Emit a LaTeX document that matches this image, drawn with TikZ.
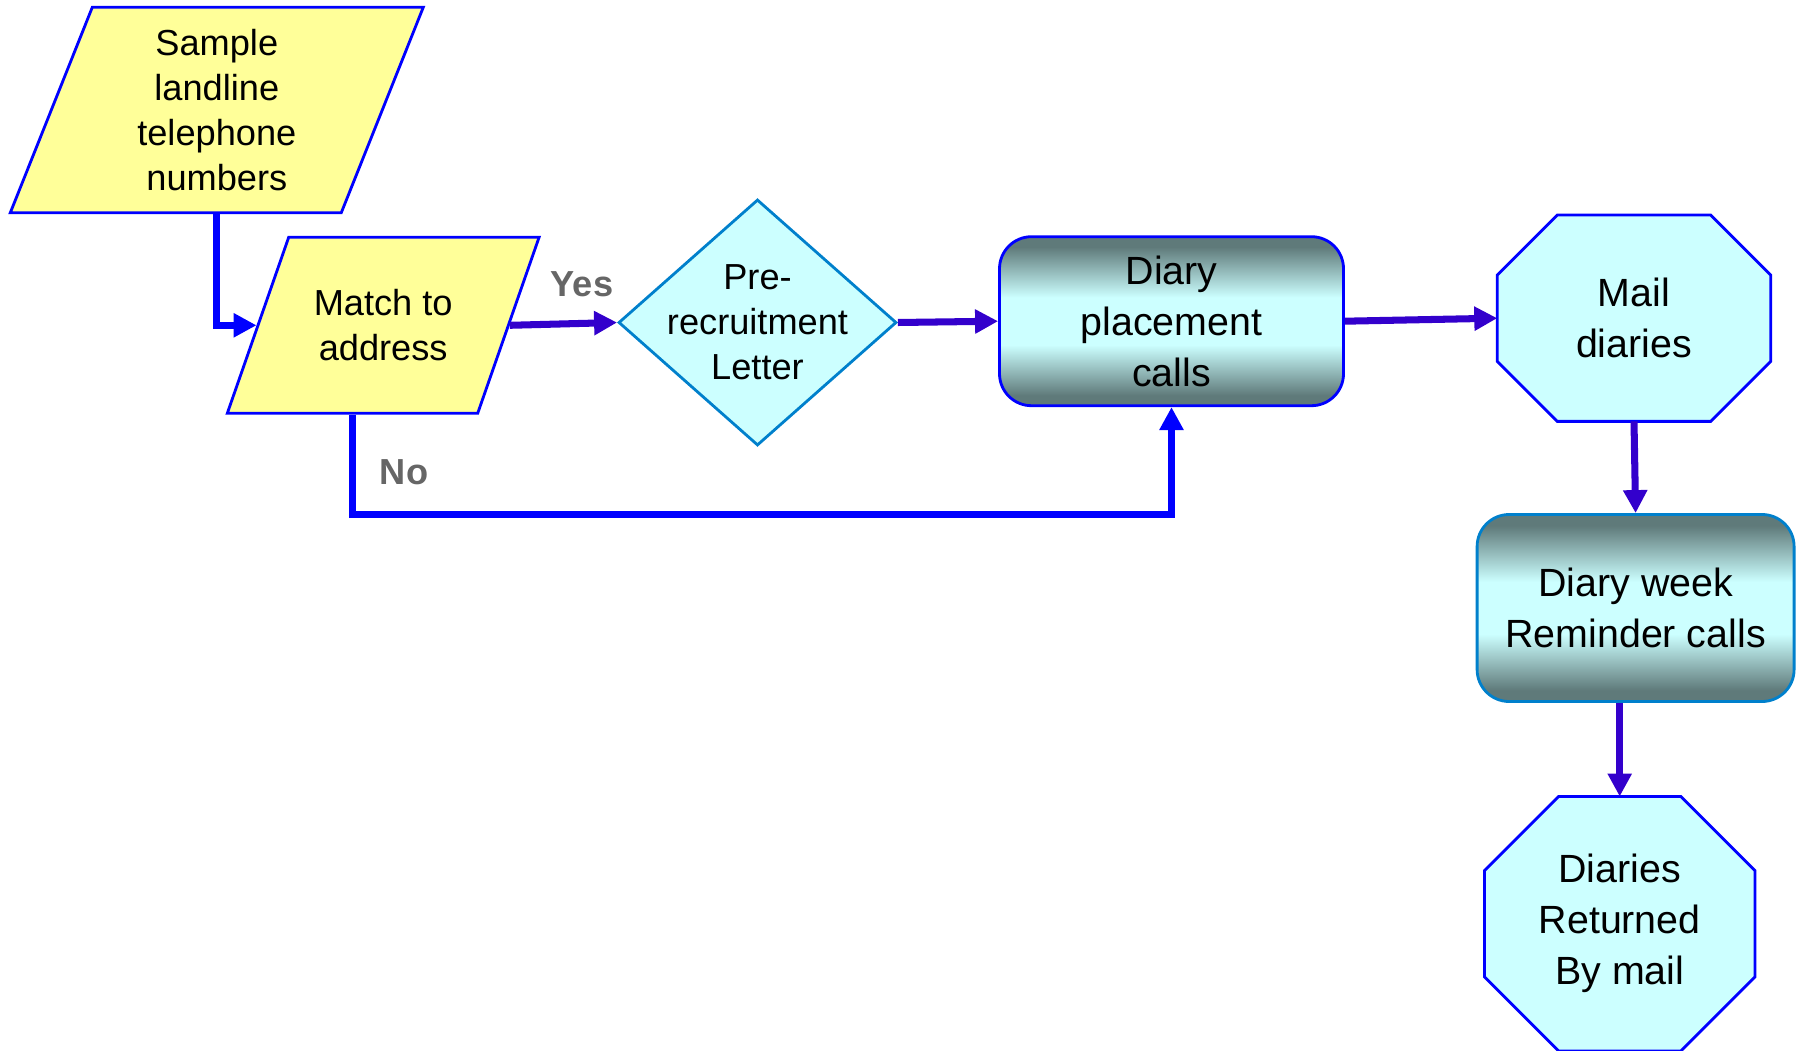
\documentclass[tikz,border=0pt]{standalone}
\usepackage{fontspec}
\setmainfont{Liberation Sans}
\usetikzlibrary{arrows.meta,shapes,positioning,backgrounds}
\definecolor{boxyellow}{RGB}{255,255,153}
\definecolor{boxcyan}{RGB}{204,255,255}
\definecolor{shadegray}{RGB}{95,122,122}
\definecolor{edgeblue}{RGB}{0,0,255}
\definecolor{edgesky}{RGB}{0,128,204}
\definecolor{arrowviolet}{RGB}{51,0,204}
\definecolor{labelgray}{RGB}{102,102,102}
\pgfdeclareverticalshading{callshade}{100bp}{color(0bp)=(shadegray); color(28bp)=(shadegray); color(43bp)=(boxcyan); color(57bp)=(boxcyan); color(72bp)=(shadegray); color(100bp)=(shadegray)}

\tikzset{
  smalltext/.style={align=center,font=\fontsize{10.3}{12.8}\selectfont},
  bigtext/.style={align=center,font=\fontsize{11.2}{14.5}\selectfont},
  inputbox/.style={trapezium,draw=edgeblue,fill=boxyellow,line width=0.8pt,minimum width=0pt,minimum height=0pt},
  letterbox/.style={diamond,draw=edgesky,fill=boxcyan,line width=0.8pt,inner sep=0pt},
  callbox/.style={rectangle,rounded corners=3.2mm,draw=edgeblue,line width=0.8pt,shade,shading=callshade,inner sep=0pt,bigtext},
  mailbox/.style={rectangle,inner sep=0pt,bigtext},
  octline/.style={draw=edgeblue,fill=boxcyan,line width=0.8pt},
  blueline/.style={draw=edgeblue,line width=2pt,-{Triangle[length=2.3mm,width=2.3mm]}},
  violetline/.style={draw=arrowviolet,line width=2pt,-{Triangle[length=2.3mm,width=2.3mm]}},
  flaglabel/.style={text=labelgray,font=\fontsize{10.3}{12}\selectfont\bfseries}
}

\begin{document}
\begin{tikzpicture}
%\draw[step=1cm,color=gray] (0,0) grid (18,-10.5);
\useasboundingbox (0,0) rectangle (18.01,-10.51);
\node[inputbox,trapezium left angle=68.24,trapezium right angle=111.76,inner xsep=1.245cm,inner ysep=1.027cm,label={[smalltext]center:{Sample\\landline\\telephone\\numbers}}] (sample) at (2.168,-1.10) {};
\node[inputbox,trapezium left angle=70.77,trapezium right angle=109.23,inner xsep=0.945cm,inner ysep=0.88cm,label={[smalltext]center:{Match to\\address}}] (match) at (3.832,-3.253) {};
\node[letterbox,minimum width=2.78cm,minimum height=2.46cm,label={[smalltext]center:{Pre-\\recruitment\\Letter}}] (letter) at (7.575,-3.225) {};
\node[callbox,minimum width=3.44cm,minimum height=1.69cm] (placement) at (11.715,-3.212) {Diary\\placement\\calls};
\node[mailbox,minimum width=2.72cm,minimum height=2.05cm] (mail) at (16.34,-3.182) {Mail\\diaries};
\node[callbox,draw=edgesky,minimum width=3.17cm,minimum height=1.87cm] (week) at (16.356,-6.08) {Diary week\\Reminder calls};
\node[mailbox,minimum width=2.69cm,minimum height=2.53cm] (returned) at (16.197,-9.237) {Diaries\\Returned\\By mail};
\node[flaglabel] (yes) at (5.82,-2.84) {Yes};
\node[flaglabel] (no) at (4.04,-4.72) {No};

% octagons behind the two mail steps
\begin{pgfonlayer}{background}
\foreach \oct/\c in {mail/0.6,returned/0.74}
  \draw[octline] ([xshift=\c cm]\oct.north west) -- ([xshift=-\c cm]\oct.north east)
    -- ([yshift=-\c cm]\oct.north east) -- ([yshift=\c cm]\oct.south east)
    -- ([xshift=-\c cm]\oct.south east) -- ([xshift=\c cm]\oct.south west)
    -- ([yshift=\c cm]\oct.south west) -- ([yshift=-\c cm]\oct.north west) -- cycle;
\end{pgfonlayer}

\draw[blueline] (sample.center |- sample.bottom side) |- (match.left side);
\draw[violetline] (match.right side) -- (letter.west);
\draw[violetline] (letter.east) -- (placement.west);
\draw[blueline] (match.bottom side) |- ([yshift=-10.7mm]placement.south) -- (placement.south);
\draw[violetline] (placement.east) -- (mail.west);
\draw[violetline] (mail.south) -- (week.north);
\draw[violetline] (returned.north |- week.south) -- (returned.north);
\end{tikzpicture}
\end{document}
